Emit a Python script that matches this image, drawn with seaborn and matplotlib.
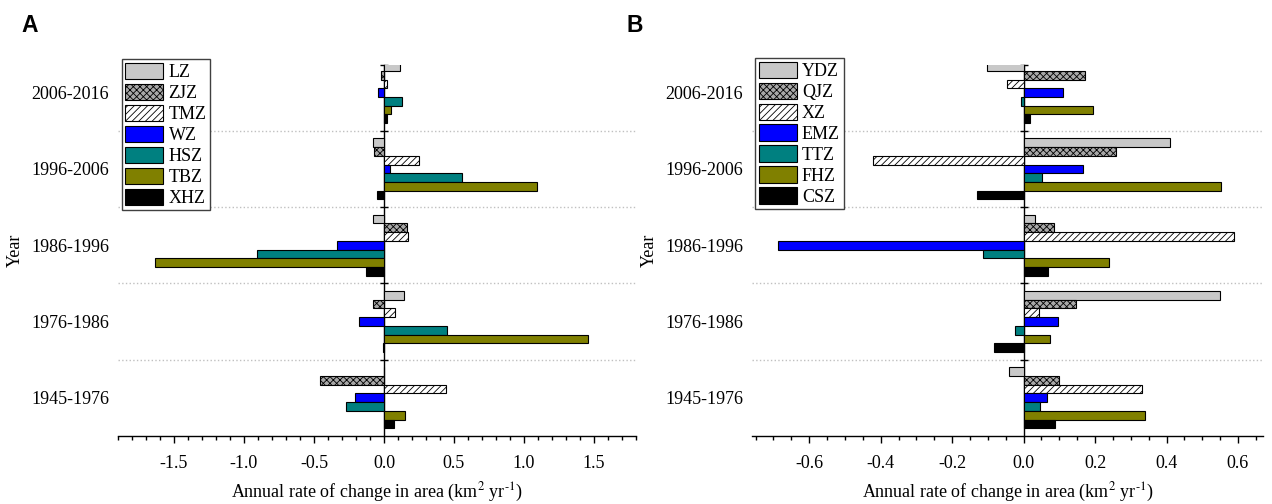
"""Annual rate of change in glacier area per zone, two panels (A, B)."""

import matplotlib

matplotlib.use("Agg")
import matplotlib.patches as mpatches
import matplotlib.pyplot as plt
import pandas as pd
import seaborn as sns
from matplotlib.ticker import FormatStrFormatter, MultipleLocator

# periods, top to bottom as drawn
PERIODS = ["2006-2016", "1996-2006", "1986-1996", "1976-1986", "1945-1976"]

# panel A -- km2/yr, one value per period (same order as PERIODS)
ZONES_A = ["LZ", "ZJZ", "TMZ", "WZ", "HSZ", "TBZ", "XHZ"]
LZ = [0.117, -0.076, -0.08, 0.141, 0.0]
ZJZ = [-0.02, -0.07, 0.164, -0.075, -0.458]
TMZ = [0.02, 0.25, 0.173, 0.077, 0.44]
WZ = [-0.043, 0.04, -0.334, -0.18, -0.21]
HSZ = [0.127, 0.555, -0.906, 0.45, -0.27]
TBZ = [0.05, 1.09, -1.637, 1.46, 0.15]
XHZ = [0.024, -0.05, -0.13, -0.01, 0.07]

# panel B
ZONES_B = ["YDZ", "QJZ", "XZ", "EMZ", "TTZ", "FHZ", "CSZ"]
YDZ = [-0.103, 0.41, 0.032, 0.55, -0.04]
QJZ = [0.171, 0.26, 0.085, 0.148, 0.098]
XZ = [-0.047, -0.422, 0.588, 0.043, 0.33]
EMZ = [0.110, 0.165, -0.687, 0.095, 0.065]
TTZ = [-0.006, 0.051, -0.113, -0.025, 0.046]
FHZ = [0.193, 0.552, 0.24, 0.075, 0.34]
CSZ = [0.017, -0.131, 0.068, -0.082, 0.087]

# the 7 series share fill + hatch in both panels
FILLS = ["#c8c8c8", "#a8a8a8", "#ffffff", "#0000ff", "#008080", "#808000", "#000000"]
HATCHES = ["", "xxxxx", "/////", "", "", "", ""]

# hyphen (not a math minus) in the exponent, as in the source figure
XLABEL = r"Annual rate of change in area (km$^2$ yr$^{\text{-}1}$)"
Y_TOP = -0.362  # axis is cut a little above the top group


def to_long(zones, series):
    """Long-form frame (Year, zone, rate) for seaborn."""
    rows = []
    for zone, vals in zip(zones, series):
        for period, v in zip(PERIODS, vals):
            rows.append({"Year": period, "zone": zone, "rate": v})
    return pd.DataFrame(rows)


def draw_panel(ax, zones, series, xlim, major, minor, legend_anchor):
    df = to_long(zones, series)
    sns.barplot(
        data=df, x="rate", y="Year", hue="zone", order=PERIODS, hue_order=zones,
        palette=dict(zip(zones, FILLS)), orient="h", errorbar=None, saturation=1,
        width=0.8, edgecolor="black", linewidth=0.8, legend=False, ax=ax,
    )
    for cont, hatch in zip(ax.containers, HATCHES):
        for bar in cont:
            bar.set_hatch(hatch)

    ax.set_xlim(xlim)
    ax.set_ylim(4.5, Y_TOP)
    ax.xaxis.set_major_locator(MultipleLocator(major))
    ax.xaxis.set_minor_locator(MultipleLocator(minor))
    ax.xaxis.set_major_formatter(FormatStrFormatter("%.1f"))
    for side in ("top", "right", "left"):
        ax.spines[side].set_visible(False)
    ax.spines["bottom"].set_linewidth(1.0)
    ax.tick_params(axis="y", length=0, pad=6.5, labelsize=13)
    ax.tick_params(axis="x", which="major", length=5, width=1, pad=9, labelsize=13)
    ax.tick_params(axis="x", which="minor", length=3, width=1)
    ax.set_xlabel(XLABEL, fontsize=13, labelpad=6)
    ax.set_ylabel("Year", fontsize=13, labelpad=5)

    # dotted separators between periods
    for y in (0.5, 1.5, 2.5, 3.5):
        ax.axhline(y, color="#c0c0c0", linestyle=":", linewidth=1, zorder=0)

    # category axis drawn through x = 0, ticks at the group boundaries
    frac = (0 - xlim[0]) / (xlim[1] - xlim[0])
    sec = ax.secondary_yaxis(frac)
    sec.set_yticks([Y_TOP, 0.5, 1.5, 2.5, 3.5])
    sec.tick_params(direction="inout", length=6, width=1, color="black",
                    labelleft=False, labelright=False)
    for sp in sec.spines.values():
        sp.set_linewidth(1.0)
        sp.set_color("black")

    handles = [
        mpatches.Patch(facecolor=f, edgecolor="black", hatch=h, linewidth=0.8, label=z)
        for z, f, h in zip(zones, FILLS, HATCHES)
    ]
    ax.legend(
        handles=handles, loc="upper left", bbox_to_anchor=legend_anchor,
        borderaxespad=0, fontsize=13, handlelength=2.1, handleheight=1.0,
        labelspacing=0.15, handletextpad=0.3, borderpad=0.2, fancybox=False,
        framealpha=1, edgecolor="#404040",
    )


sns.set_style("ticks")
plt.rcParams["font.family"] = ["Liberation Serif", "DejaVu Serif"]
plt.rcParams["mathtext.fontset"] = "stix"
plt.rcParams["axes.unicode_minus"] = False
plt.rcParams["hatch.linewidth"] = 0.6
plt.rcParams["hatch.color"] = "#303030"
plt.rcParams["legend.frameon"] = True
# seaborn's style greys the text and axes; the source is plain black
for key in ("text.color", "axes.labelcolor", "xtick.color", "ytick.color",
            "axes.edgecolor"):
    plt.rcParams[key] = "black"

fig = plt.figure(figsize=(12.72, 5.04), dpi=100)
ax_a = fig.add_axes([118 / 1272, 68 / 504, 518 / 1272, 371 / 504])
ax_b = fig.add_axes([752 / 1272, 68 / 504, 511 / 1272, 371 / 504])

draw_panel(ax_a, ZONES_A, [LZ, ZJZ, TMZ, WZ, HSZ, TBZ, XHZ],
           (-1.9, 1.8), 0.5, 0.1, (0.007, 1.016))
draw_panel(ax_b, ZONES_B, [YDZ, QJZ, XZ, EMZ, TTZ, FHZ, CSZ],
           (-0.76, 0.67), 0.2, 0.05, (0.006, 1.019))

for x, letter in ((21 / 1272, "A"), (627 / 1272, "B")):
    fig.text(x, 1 - 32 / 504, letter, fontsize=16.5, fontweight="bold",
             family="Liberation Sans", va="baseline")

fig.savefig("out.png", dpi=100)
